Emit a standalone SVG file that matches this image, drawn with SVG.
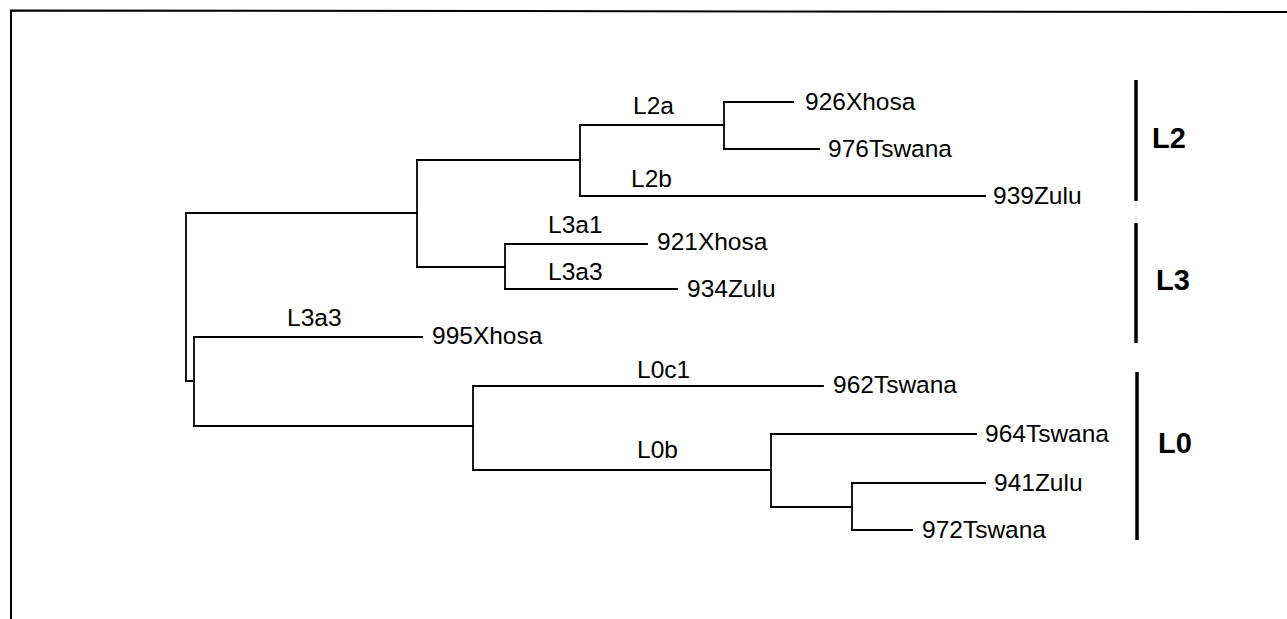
<svg xmlns="http://www.w3.org/2000/svg" width="1287" height="619" viewBox="0 0 1287 619">
<style>
.frame{stroke:#000;stroke-width:2;fill:none}
.br{stroke:#000;stroke-width:1.8;fill:none;stroke-linecap:square}
.bar{stroke:#000;stroke-width:3.5;fill:none}
.lbl{font-family:"Liberation Sans",Arial,sans-serif;font-size:24.5px;fill:#000}
.grp{font-family:"Liberation Sans",Arial,sans-serif;font-size:29px;font-weight:bold;fill:#000}
</style>
<rect width="1287" height="619" fill="#fff"/>
<g id="frame">
<path class="frame" d="M11,619 L11,10.5 L1287,12"/>
</g>
<g id="connectors">
<path class="br" d="M194,381 L186,381 L186,213 L417,213"/>
<path class="br" d="M417,160 L417,267"/>
<path class="br" d="M417,160 L580,160"/>
<path class="br" d="M580,125 L580,196"/>
<path class="br" d="M580,125 L724,125"/>
<path class="br" d="M724,102 L724,149"/>
<path class="br" d="M724,102 L793,102"/>
<path class="br" d="M724,149 L819,149"/>
<path class="br" d="M580,196 L985,196"/>
<path class="br" d="M417,267 L505,267"/>
<path class="br" d="M505,244 L505,289"/>
<path class="br" d="M505,244 L647,244"/>
<path class="br" d="M505,289 L677,289"/>
<path class="br" d="M194,337 L194,426"/>
<path class="br" d="M194,337 L422,337"/>
<path class="br" d="M194,426 L473,426"/>
<path class="br" d="M473,386 L473,470"/>
<path class="br" d="M473,386 L823,386"/>
<path class="br" d="M473,470 L771,470"/>
<path class="br" d="M771,434 L771,507"/>
<path class="br" d="M771,434 L976,434"/>
<path class="br" d="M771,507 L852,507"/>
<path class="br" d="M852,483 L852,530"/>
<path class="br" d="M852,483 L985,483"/>
<path class="br" d="M852,530 L912,530"/>
</g>
<g id="branch-labels">
<text class="lbl" x="633" y="114">L2a</text>
<text class="lbl" x="631" y="187">L2b</text>
<text class="lbl" x="548" y="233">L3a1</text>
<text class="lbl" x="548" y="280">L3a3</text>
<text class="lbl" x="287" y="326">L3a3</text>
<text class="lbl" x="637" y="378">L0c1</text>
<text class="lbl" x="637" y="458">L0b</text>
</g>
<g id="leaf-926Xhosa"><text class="lbl" x="805" y="110">926Xhosa</text></g>
<g id="leaf-976Tswana"><text class="lbl" x="828" y="157">976Tswana</text></g>
<g id="leaf-939Zulu"><text class="lbl" x="993" y="204">939Zulu</text></g>
<g id="leaf-921Xhosa"><text class="lbl" x="657" y="250">921Xhosa</text></g>
<g id="leaf-934Zulu"><text class="lbl" x="687" y="297">934Zulu</text></g>
<g id="leaf-995Xhosa"><text class="lbl" x="432" y="344">995Xhosa</text></g>
<g id="leaf-962Tswana"><text class="lbl" x="833" y="393">962Tswana</text></g>
<g id="leaf-964Tswana"><text class="lbl" x="985" y="442">964Tswana</text></g>
<g id="leaf-941Zulu"><text class="lbl" x="994" y="491">941Zulu</text></g>
<g id="leaf-972Tswana"><text class="lbl" x="922" y="538">972Tswana</text></g>
<g id="group-L2">
<line class="bar" x1="1136" y1="80" x2="1136" y2="201"/>
<text class="grp" x="1152" y="148">L2</text>
</g>
<g id="group-L3">
<line class="bar" x1="1136" y1="223" x2="1136" y2="343"/>
<text class="grp" x="1156" y="290">L3</text>
</g>
<g id="group-L0">
<line class="bar" x1="1137" y1="372" x2="1137" y2="540"/>
<text class="grp" x="1158" y="453">L0</text>
</g>
</svg>
